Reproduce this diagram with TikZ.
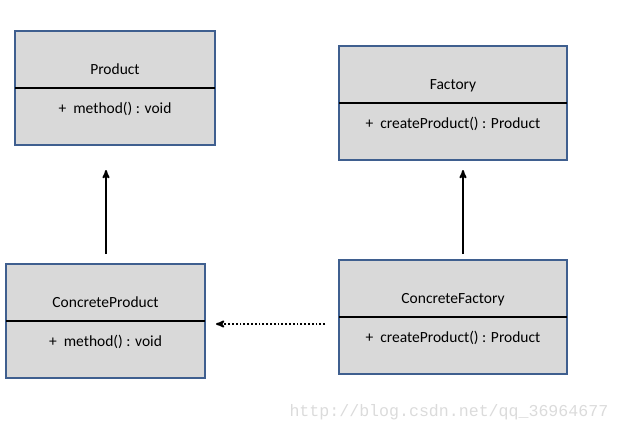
\documentclass[tikz,border=0pt]{standalone}
\usepackage{fontspec}
\setmainfont{Carlito}
\newfontfamily\wmfont{Liberation Mono}
\usetikzlibrary{arrows,positioning}
\definecolor{boxblue}{HTML}{3F5F8F}
\definecolor{boxgray}{HTML}{D9D9D9}
\tikzset{
    every picture/.style={
        x=1pt,y=-1pt,>=stealth',node distance=0pt,
        font=\fontsize{15.5}{18}\selectfont
    },
    head/.style={draw=boxblue,fill=boxgray,line width=1.6pt,minimum height=57pt,
        outer sep=0pt,inner sep=0pt,text height=33pt,text depth=3pt},
    body/.style={head,text height=9pt,text depth=16pt},
    divide/.style={line width=1.8pt},
    link/.style={->,line width=1.8pt},
    depend/.style={link,dotted}
}

\begin{document}
\begin{tikzpicture}
    \useasboundingbox (0,0) rectangle (618,432);
    % classes
    \node[head,minimum width=200pt,anchor=north west] (ph)  at (15,31)  {Product};
    \node[body,minimum width=200pt,below=of ph]       (pb)              {+\ \ method() : void};
    \node[head,minimum width=228pt,anchor=north west] (fh)  at (339,46) {Factory};
    \node[body,minimum width=228pt,below=of fh]       (fb)              {+\ \ createProduct() : Product};
    \node[head,minimum width=199pt,anchor=north west] (cph) at (6,264)  {ConcreteProduct};
    \node[body,minimum width=199pt,below=of cph]      (cpb)             {+\ \ method() : void};
    \node[head,minimum width=228pt,anchor=north west] (cfh) at (339,260) {ConcreteFactory};
    \node[body,minimum width=228pt,below=of cfh]      (cfb)             {+\ \ createProduct() : Product};
    \foreach \c in {ph,fh,cph,cfh}
        \draw[divide] (\c.south west) -- (\c.south east);
    % relations
    \draw[link,shorten <=10pt,shorten >=25pt] ([xshift=.5pt]cph.north) -- ([xshift=.5pt]cph.north |- pb.south);
    \draw[link,shorten <=6pt,shorten >=10pt] ([xshift=10pt]cfh.north) -- ([xshift=10pt]fb.south);
    \coordinate (dep) at ([yshift=21.5pt]cfb.west);
    \draw[depend,shorten <=14pt,shorten >=11pt] (dep) -- (dep -| cpb.east);
    \node[text=black!14,font=\wmfont\fontsize{16.6}{18}\selectfont,anchor=west] (wm) at (286,412) {http://blog.csdn.net/qq\_36964677};
\end{tikzpicture}
\end{document}
